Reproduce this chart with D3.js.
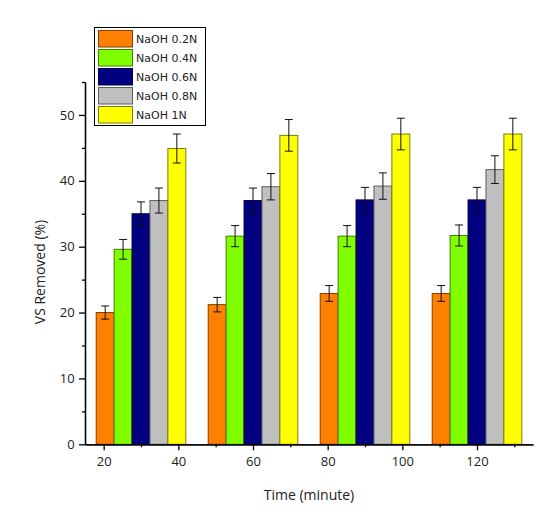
<!DOCTYPE html>
<html>
<head>
<meta charset="utf-8">
<script src="https://cdn.jsdelivr.net/npm/d3@7"></script>
<style>
  body { margin: 0; background: #fff; }
  svg { display: block; }
</style>
</head>
<body>
<div id="chart"></div>
<script>
const width = 556;
const height = 526;

// data
const groupX = [30, 60, 90, 120];
const series = ["NaOH 0.2N", "NaOH 0.4N", "NaOH 0.6N", "NaOH 0.8N", "NaOH 1N"];
const colors = ["#ff8000", "#80ff00", "#000080", "#c0c0c0", "#ffff00"];
const values = [
    [20.0, 21.2, 22.9, 22.9],
    [29.6, 31.6, 31.6, 31.7],
    [35.0, 37.0, 37.1, 37.1],
    [37.0, 39.1, 39.2, 41.7],
    [44.9, 46.9, 47.1, 47.1]
];
const errors = [
    [1.0, 1.1, 1.2, 1.2],
    [1.5, 1.6, 1.6, 1.6],
    [1.8, 1.9, 1.9, 1.9],
    [1.9, 2.0, 2.0, 2.1],
    [2.2, 2.4, 2.4, 2.4]
];
const xTicks = [20, 40, 60, 80, 100, 120];
const yTicks = [0, 10, 20, 30, 40, 50];

const margin = { left: 85, right: 23, top: 82, bottom: 82 };

const svg = d3.select("#chart")
    .append("svg")
    .attr("width", width)
    .attr("height", height);

const x = d3.scaleLinear()
    .domain([15, 135])
    .range([margin.left, width - margin.right]);

const y = d3.scaleLinear()
    .domain([0, 55])
    .range([height - margin.bottom + 0.3, margin.top]);

const barW = 4.8; // in x units

function edge(c) {
    return d3.color(c).darker(2).formatHex();
}

// bars
series.forEach(function (name, i) {
    const g = svg.append("g");
    groupX.forEach(function (gx, j) {
        const x0 = gx + (i - 2.5) * barW;
        g.append("rect")
            .attr("x", x(x0))
            .attr("y", y(values[i][j]))
            .attr("width", x(x0 + barW) - x(x0))
            .attr("height", y(0) - y(values[i][j]))
            .attr("fill", colors[i])
            .attr("stroke", edge(colors[i]))
            .attr("stroke-width", 1);
    });
});

// error bars
series.forEach(function (name, i) {
    groupX.forEach(function (gx, j) {
        const cx = x(gx + (i - 2) * barW);
        const top = y(values[i][j] + errors[i][j]);
        const bot = y(values[i][j] - errors[i][j]);
        svg.append("line")
            .attr("x1", cx).attr("x2", cx)
            .attr("y1", top).attr("y2", bot)
            .attr("stroke", "#111").attr("stroke-width", 1);
        [top, bot].forEach(function (yy) {
            svg.append("line")
                .attr("x1", cx - 4).attr("x2", cx + 4)
                .attr("y1", yy).attr("y2", yy)
                .attr("stroke", "#111").attr("stroke-width", 1);
        });
    });
});

// axes
const xAxis = svg.append("g")
    .attr("transform", `translate(0,${y(0)})`)
    .call(d3.axisBottom(x).tickValues(xTicks).tickSize(6).tickSizeOuter(0));

svg.append("g")
    .attr("transform", `translate(0,${y(0)})`)
    .call(d3.axisBottom(x).tickValues([30, 50, 70, 90, 110, 130]).tickSize(3).tickFormat("").tickSizeOuter(0));

const yAxis = svg.append("g")
    .attr("transform", `translate(${x(15)},0)`)
    .call(d3.axisLeft(y).tickValues(yTicks).tickSize(6).tickSizeOuter(0));

svg.append("g")
    .attr("transform", `translate(${x(15)},0)`)
    .call(d3.axisLeft(y).tickValues([5, 15, 25, 35, 45, 55]).tickSize(3).tickFormat("").tickSizeOuter(0));

svg.selectAll(".domain, .tick line")
    .attr("stroke", "#000")
    .attr("stroke-width", 1.3);

svg.selectAll(".tick text")
    .attr("font-family", "Open Sans")
    .attr("font-size", 13)
    .attr("fill", "#222");

xAxis.selectAll(".tick text").attr("dy", "0.95em");
yAxis.selectAll(".tick text").attr("dx", "-0.1em");

// axis titles
svg.append("text")
    .attr("x", (x(15) + x(135)) / 2)
    .attr("y", 500)
    .attr("text-anchor", "middle")
    .attr("font-family", "Open Sans")
    .attr("font-size", 14)
    .attr("fill", "#222")
    .text("Time (minute)");

svg.append("text")
    .attr("transform", "translate(45,272) rotate(-90)")
    .attr("text-anchor", "middle")
    .attr("font-family", "Open Sans")
    .attr("font-size", 14)
    .attr("fill", "#222")
    .text("VS Removed (%)");

// legend
const legend = svg.append("g");
legend.append("rect")
    .attr("x", 94.5).attr("y", 27.5)
    .attr("width", 111).attr("height", 98)
    .attr("fill", "#fff")
    .attr("stroke", "#000")
    .attr("stroke-width", 1);

series.forEach(function (name, i) {
    const yy = 30.5 + i * 19;
    legend.append("rect")
        .attr("x", 98.5).attr("y", yy)
        .attr("width", 34).attr("height", 16.5)
        .attr("fill", colors[i])
        .attr("stroke", edge(colors[i]))
        .attr("stroke-width", 1);
    legend.append("text")
        .attr("x", 136)
        .attr("y", yy + 12.5)
        .attr("font-family", "DejaVu Sans")
        .attr("font-size", 11)
        .attr("fill", "#222")
        .text(name);
});
</script>
</body>
</html>
